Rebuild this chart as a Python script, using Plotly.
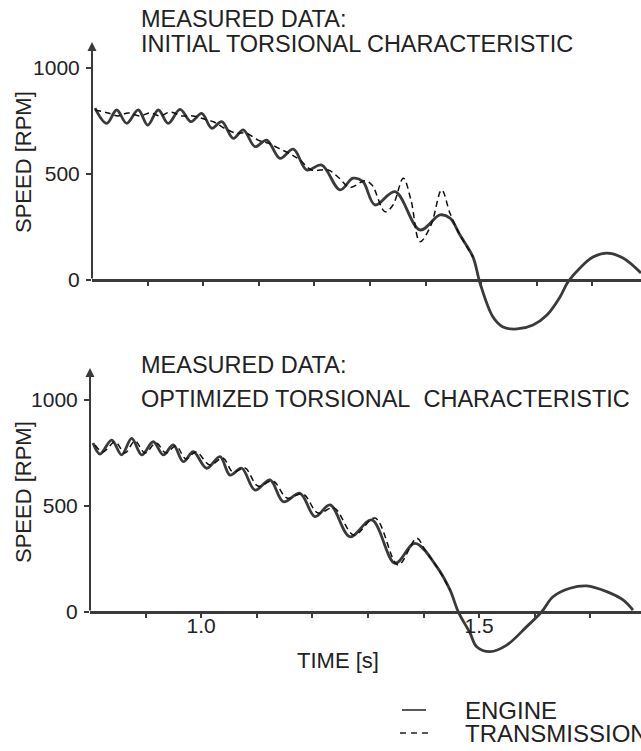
import plotly.graph_objects as go

# ---------------- data ----------------
# Top panel: initial torsional characteristic
t_eng_init = [0.8054, 0.8264, 0.8444, 0.8624, 0.8833, 0.9002, 0.9192, 0.9372, 0.9583, 0.9781,
              0.9973, 1.0153, 1.0333, 1.0541, 1.0721, 1.0932, 1.1142, 1.1381, 1.1621, 1.1862,
              1.2131, 1.2460, 1.2694, 1.2870, 1.3090, 1.3450, 1.3899, 1.4259, 1.4439, 1.4619,
              1.4853, 1.4978, 1.5212, 1.5392, 1.5644, 1.5932, 1.6183, 1.6417, 1.6561, 1.6777,
              1.7011, 1.7263, 1.7550, 1.7874]
v_eng_init = [811, 739, 802, 739, 802, 731, 802, 739, 805, 747,
              786, 716, 747, 668, 708, 629, 660, 574, 617, 519,
              542, 425, 480, 465, 354, 417, 236, 307, 292, 212,
              108, -14, -175, -222, -231, -212, -165, -80, -9, 57,
              108, 127, 104, 33]

t_tr_init = [0.8054, 0.8288, 0.8468, 0.8648, 0.8863, 0.9043, 0.9223, 0.9403, 0.9619, 0.9817,
             1.0014, 1.0194, 1.0374, 1.0590, 1.0770, 1.0986, 1.1165, 1.1345, 1.1597, 1.1741,
             1.1951, 1.2250, 1.2424, 1.2640, 1.2910, 1.3036, 1.3270, 1.3414, 1.3599, 1.3737,
             1.3899, 1.4097, 1.4289, 1.4439, 1.4619, 1.4853]
v_tr_init = [802, 788, 774, 788, 774, 788, 774, 792, 774, 774,
             759, 745, 717, 693, 693, 660, 646, 623, 590, 566,
             519, 519, 486, 437, 468, 448, 322, 354, 480, 377,
             181, 259, 425, 315, 212, 108]

# Bottom panel: optimized torsional characteristic
t_eng_opt = [0.8054, 0.8180, 0.8390, 0.8570, 0.8750, 0.8930, 0.9138, 0.9318, 0.9498, 0.9678,
             0.9858, 1.0099, 1.0338, 1.0518, 1.0728, 1.0968, 1.1237, 1.1477, 1.1777, 1.2047,
             1.2317, 1.2676, 1.3067, 1.3486, 1.3845, 1.4236, 1.4475, 1.4624, 1.4835, 1.4955,
             1.5194, 1.5495, 1.5854, 1.6124, 1.6327, 1.6633, 1.6933, 1.7293, 1.7586, 1.7766]
v_eng_opt = [797, 745, 811, 741, 819, 741, 803, 741, 788, 709,
             756, 678, 733, 646, 678, 575, 623, 520, 560, 450,
             505, 355, 434, 230, 324, 214, 104, 1, -99, -164,
             -187, -156, -69, 1, 72, 112, 123, 96, 57, 9]

t_tr_opt = [0.8090, 0.8234, 0.8450, 0.8629, 0.8809, 0.8989, 0.9187, 0.9367, 0.9547, 0.9727,
            0.9906, 1.0158, 1.0392, 1.0572, 1.0788, 1.1022, 1.1291, 1.1543, 1.1831, 1.2101,
            1.2388, 1.2748, 1.3126, 1.3540, 1.3876, 1.4025, 1.4236, 1.4475]
v_tr_opt = [788, 755, 802, 750, 807, 750, 797, 750, 783, 722,
            755, 693, 726, 660, 679, 594, 618, 538, 557, 467,
            491, 363, 443, 222, 348, 292, 214, 104]

x_tick_vals = [0.9, 1.0, 1.1, 1.2, 1.3, 1.4, 1.5, 1.6, 1.7]
x_tick_text = ["", "1.0", "", "", "", "", "1.5", "", ""]
y_tick_vals = [0, 500, 1000]
y_tick_text = ["0", "500", "1000"]

series_names = ["ENGINE", "TRANSMISSION"]
panel_titles = [("MEASURED DATA:", "INITIAL TORSIONAL CHARACTERISTIC"),
                ("MEASURED DATA:", "OPTIMIZED TORSIONAL\u00a0 CHARACTERISTIC")]

# ---------------- layout geometry (pixels) ----------------
W, H = 641, 751
FONT = "Liberation Sans, Arial, Helvetica, sans-serif"
INK = "#222222"
LINE = "#3a3a3a"
FS = 22
FS_TITLE = 23.5
FS_LEG = 24
FS_TICK = 21
PX_PER_S = 556.0
PX_PER_RPM = 212.0 / 1000.0


def fx(p):
    return p / W


def fy(p):
    return 1 - p / H


def panel(left_px, zero_px, top_px, bottom_px):
    xr = [0.8, 0.8 + (W - left_px) / PX_PER_S]
    yr = [-(bottom_px - zero_px) / PX_PER_RPM, (zero_px - top_px) / PX_PER_RPM]
    return dict(xdom=[fx(left_px), 1.0], ydom=[fy(bottom_px), fy(top_px)], xr=xr, yr=yr,
                pos=fy(zero_px))


P1 = panel(92, 280, 30, 345)
P2 = panel(90, 612, 360, 690)

fig = go.Figure()

line_eng = dict(color=LINE, width=2.8, shape="spline", smoothing=1.0)
line_tr = dict(color="#111111", width=1.5, dash="6px,4px", shape="spline", smoothing=1.0)

fig.add_trace(go.Scatter(x=t_eng_init, y=v_eng_init, mode="lines", line=line_eng,
                         name=series_names[0], xaxis="x", yaxis="y", showlegend=False))
fig.add_trace(go.Scatter(x=t_tr_init, y=v_tr_init, mode="lines", line=line_tr,
                         name=series_names[1], xaxis="x", yaxis="y", showlegend=False))
fig.add_trace(go.Scatter(x=t_eng_opt, y=v_eng_opt, mode="lines", line=line_eng,
                         name=series_names[0], xaxis="x2", yaxis="y2", showlegend=False))
fig.add_trace(go.Scatter(x=t_tr_opt, y=v_tr_opt, mode="lines", line=line_tr,
                         name=series_names[1], xaxis="x2", yaxis="y2", showlegend=False))

tickfont = dict(family=FONT, size=FS_TICK, color=INK)


def xaxis(P, labels):
    return dict(domain=P["xdom"], range=P["xr"], anchor="free", position=P["pos"],
                showline=True, linecolor=LINE, linewidth=2.5, showgrid=False, zeroline=False,
                ticks="outside", ticklen=4, tickwidth=1.5, tickcolor=LINE,
                tickvals=x_tick_vals, ticktext=labels, tickfont=tickfont,
                ticklabelstandoff=-10, fixedrange=True)


def yaxis(P, xname):
    return dict(domain=P["ydom"], range=P["yr"], anchor=xname,
                showline=False, showgrid=False, zeroline=False,
                ticks="outside", ticklen=5, tickwidth=1.5, tickcolor=LINE,
                tickvals=y_tick_vals, ticktext=y_tick_text, tickfont=tickfont,
                ticklabelstandoff=2, fixedrange=True)


fig.update_layout(
    width=W, height=H,
    margin=dict(l=0, r=0, t=0, b=0),
    paper_bgcolor="white", plot_bgcolor="white",
    font=dict(family=FONT, size=FS, color=INK),
    xaxis=xaxis(P1, [""] * len(x_tick_vals)),
    yaxis=yaxis(P1, "x"),
    xaxis2=xaxis(P2, x_tick_text),
    yaxis2=yaxis(P2, "x2"),
    showlegend=False,
)

ann = []
# panel titles
for (l1, l2), (y1, y2) in zip(panel_titles, [(19, 44), (365, 399)]):
    ann.append(dict(text=l1, x=fx(139), y=fy(y1), xref="paper", yref="paper",
                    xanchor="left", yanchor="middle", showarrow=False, font=dict(size=FS_TITLE)))
    ann.append(dict(text=l2, x=fx(139), y=fy(y2), xref="paper", yref="paper",
                    xanchor="left", yanchor="middle", showarrow=False, font=dict(size=FS_TITLE)))
# y titles
for yc in (162, 492):
    ann.append(dict(text="SPEED [RPM]", x=fx(23), y=fy(yc), xref="paper", yref="paper",
                    xanchor="center", yanchor="middle", textangle=-90, showarrow=False,
                    font=dict(size=FS)))
# x title
ann.append(dict(text="TIME [s]", x=fx(338), y=fy(660), xref="paper", yref="paper",
                xanchor="center", yanchor="middle", showarrow=False, font=dict(size=FS)))
# y axis lines with arrow tips
ann.append(dict(x=0.8, y=(280 - 42) / PX_PER_RPM, ax=0.8, ay=0, xref="x", yref="y",
                axref="x", ayref="y", showarrow=True, arrowhead=2, arrowsize=0.9,
                arrowwidth=2, arrowcolor=LINE, text=""))
ann.append(dict(x=0.8, y=(612 - 368) / PX_PER_RPM, ax=0.8, ay=0, xref="x2", yref="y2",
                axref="x2", ayref="y2", showarrow=True, arrowhead=2, arrowsize=0.9,
                arrowwidth=2, arrowcolor=LINE, text=""))
# legend text
ann.append(dict(text=series_names[0], x=fx(463), y=fy(710), xref="paper", yref="paper",
                xanchor="left", yanchor="middle", showarrow=False, font=dict(size=FS_LEG)))
ann.append(dict(text=series_names[1], x=fx(463), y=fy(733), xref="paper", yref="paper",
                xanchor="left", yanchor="middle", showarrow=False, font=dict(size=FS_LEG)))

fig.update_layout(annotations=ann)

fig.update_layout(shapes=[
    dict(type="line", xref="paper", yref="paper", x0=fx(402), x1=fx(426), y0=fy(710), y1=fy(710),
         line=dict(color=INK, width=1.5)),
    dict(type="line", xref="paper", yref="paper", x0=fx(400), x1=fx(429), y0=fy(733), y1=fy(733),
         line=dict(color=INK, width=1.5, dash="6px,5px")),
])

fig.write_html("out.html", config={"displayModeBar": False},
               post_script="document.body.style.margin='0px';")
